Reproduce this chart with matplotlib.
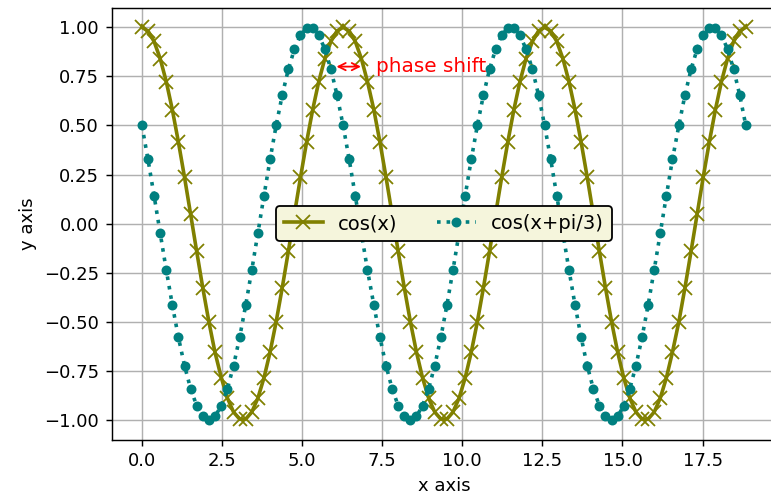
import numpy as np
import matplotlib
matplotlib.use("Agg")
import matplotlib.pyplot as plt

# sample points over three periods
x = [0.00, 0.19, 0.38, 0.57, 0.76, 0.95, 1.14, 1.33, 1.52, 1.71,
     1.90, 2.09, 2.28, 2.48, 2.67, 2.86, 3.05, 3.24, 3.43, 3.62,
     3.81, 4.00, 4.19, 4.38, 4.57, 4.76, 4.95, 5.14, 5.33, 5.52,
     5.71, 5.90, 6.09, 6.28, 6.47, 6.66, 6.85, 7.04, 7.24, 7.43,
     7.62, 7.81, 8.00, 8.19, 8.38, 8.57, 8.76, 8.95, 9.14, 9.33,
     9.52, 9.71, 9.90, 10.09, 10.28, 10.47, 10.66, 10.85, 11.04, 11.23,
     11.42, 11.61, 11.80, 11.99, 12.19, 12.38, 12.57, 12.76, 12.95, 13.14,
     13.33, 13.52, 13.71, 13.90, 14.09, 14.28, 14.47, 14.66, 14.85, 15.04,
     15.23, 15.42, 15.61, 15.80, 15.99, 16.18, 16.37, 16.56, 16.76, 16.95,
     17.14, 17.33, 17.52, 17.71, 17.90, 18.09, 18.28, 18.47, 18.66, 18.85]

cos_x = [1.000, 0.982, 0.928, 0.841, 0.724, 0.580, 0.415, 0.236, 0.048, -0.142,
         -0.327, -0.500, -0.655, -0.786, -0.889, -0.960, -0.996, -0.996, -0.960, -0.889,
         -0.786, -0.655, -0.500, -0.327, -0.142, 0.048, 0.236, 0.415, 0.580, 0.724,
         0.841, 0.928, 0.982, 1.000, 0.982, 0.928, 0.841, 0.724, 0.580, 0.415,
         0.236, 0.048, -0.142, -0.327, -0.500, -0.655, -0.786, -0.889, -0.960, -0.996,
         -0.996, -0.960, -0.889, -0.786, -0.655, -0.500, -0.327, -0.142, 0.048, 0.236,
         0.415, 0.580, 0.724, 0.841, 0.928, 0.982, 1.000, 0.982, 0.928, 0.841,
         0.724, 0.580, 0.415, 0.236, 0.048, -0.142, -0.327, -0.500, -0.655, -0.786,
         -0.889, -0.960, -0.996, -0.996, -0.960, -0.889, -0.786, -0.655, -0.500, -0.327,
         -0.142, 0.048, 0.236, 0.415, 0.580, 0.724, 0.841, 0.928, 0.982, 1.000]

cos_shift = [0.500, 0.327, 0.142, -0.048, -0.236, -0.415, -0.580, -0.724, -0.841, -0.928,
             -0.982, -1.000, -0.982, -0.928, -0.841, -0.724, -0.580, -0.415, -0.236, -0.048,
             0.142, 0.327, 0.500, 0.655, 0.786, 0.889, 0.960, 0.996, 0.996, 0.960,
             0.889, 0.786, 0.655, 0.500, 0.327, 0.142, -0.048, -0.236, -0.415, -0.580,
             -0.724, -0.841, -0.928, -0.982, -1.000, -0.982, -0.928, -0.841, -0.724, -0.580,
             -0.415, -0.236, -0.048, 0.142, 0.327, 0.500, 0.655, 0.786, 0.889, 0.960,
             0.996, 0.996, 0.960, 0.889, 0.786, 0.655, 0.500, 0.327, 0.142, -0.048,
             -0.236, -0.415, -0.580, -0.724, -0.841, -0.928, -0.982, -1.000, -0.982, -0.928,
             -0.841, -0.724, -0.580, -0.415, -0.236, -0.048, 0.142, 0.327, 0.500, 0.655,
             0.786, 0.889, 0.960, 0.996, 0.996, 0.960, 0.889, 0.786, 0.655, 0.500]

fig = plt.figure(figsize=(771 / 130, 499 / 130), dpi=130)
ax = fig.add_axes([0.1449, 0.1192, 0.8616, 0.8653])

ax.plot(x, cos_x, color="olive", marker="x", markersize=8,
        linewidth=2, label="cos(x)")
ax.plot(x, cos_shift, color="teal", marker="o", markersize=4.5, linestyle=":",
        linewidth=2, label="cos(x+pi/3)")

ax.annotate("", xy=(5.96, 0.8), xytext=(6.95, 0.8),
            arrowprops=dict(arrowstyle="<->", color="red"))
ax.text(7.3, 0.8, "phase shift", color="red", va="center", fontsize=11.1)

ax.set_xlabel("x axis")
ax.set_ylabel("y axis")
ax.grid(True)
# right edge of the frame runs past the canvas
ax.spines["right"].set_visible(False)
ax.legend(loc="center", ncol=2, facecolor="beige", edgecolor="black",
          framealpha=1, fontsize=10.8)

fig.savefig("out.png", dpi=130)
